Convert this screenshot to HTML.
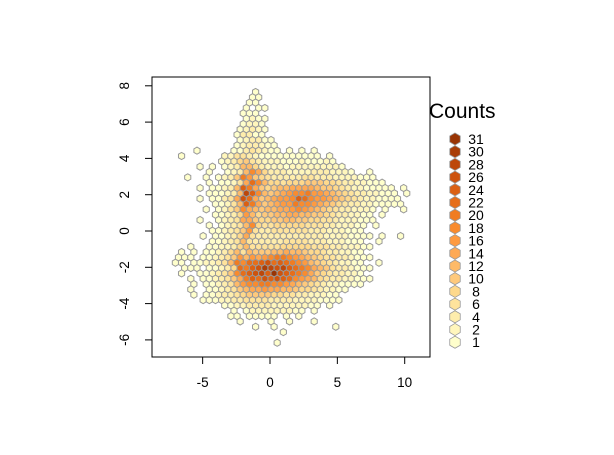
<!DOCTYPE html>
<html><head><meta charset="utf-8">
<style>
html,body{margin:0;padding:0;background:#fff;}
svg{display:block;font-family:"Liberation Sans",Arial,sans-serif;}
</style></head>
<body>
<svg id="chart" width="614" height="455" viewBox="0 0 614 455">
  <g id="hexes"></g>
  <rect x="152" y="77" width="278" height="280" fill="none" stroke="#000" stroke-width="1"/>
  <g id="axes"></g>
  <g id="legend">
    <text x="429" y="118" font-size="21" fill="#000">Counts</text>
  </g>
</svg>
<script>
// data: hex grid rows (top to bottom), each char is a legend level index ('.' = empty)
const levelChars = "0123456789abcdefg";
const legendCounts = [1,2,4,6,8,10,12,14,16,18,20,22,24,26,28,30,31];
const legendColors = ["#FFFFCC","#FFF6BC","#FEEDAC","#FEE39C","#FED98C","#FEC97C","#FEBA68","#FEA954","#FE9A40","#F98B2E","#F07C22","#E66E1A","#DB6013","#CD530E","#BD470A","#A93D07","#993404"];
const xTicks = [-5,0,5,10];
const yTicks = [-6,-4,-2,0,2,4,6,8];
const gridXMin = -7.94, gridDX = 0.458, gridYMax = 7.66, gridDY = 0.294;
const hexRows = [
"...............0",
"..............00",
"..............00",
".............0.00",
".............000",
".............0100",
".............0110",
"............01210",
"............02200",
"............012200",
"............0122100",
".....0.....00232100.0.0.0",
"...0......1133210000000000.0",
".........0124532111000100010",
"......0.0.01266421110111111110",
".......0..012697422211112221110..0",
"....0..0.0125a854322222332221111000",
".......0.00137b964434445554432211000",
"......0.00126ca75456677776554321100000.0",
".......000126ec96567899a88765432211000.0",
"......0.00237db7567889cb988765432110000",
"........00136ca756788a99876543221100000",
".......0.01359765667789876543221110.0..0",
"........00124864556677665543221100.0",
"......0..01237754455665544332111000",
".......0.012369433444443332211100.0",
"........0012358322333333222111000",
"......0.00124732222222222211110000.0..0",
"........0012363222223333222111000..0",
"....0..001124633333444443332211100",
"...0.0.00124636555667665443221100",
"..000.001235868789aa98765433221000",
"..00.0011236a9bbcdbcba98654321100..0",
"...000.00124bacdfedecba97653221000",
"...0..0012359bcdecgdcba9754322110",
"....0.0012357acbdcdcb9876432211000",
".....0.001236899aa998765432110000",
"....0..00123567787766544321100",
".....0.0012234555544332211100",
"......00011223333222211110000",
"..........0011222211111100.0",
"...........0.0111111100.0",
"...........00.00000.0.0",
"............0....0..0...0",
"...............0..0.........0",
"...................0",
"",
"..................0"
];

const NS = "http://www.w3.org/2000/svg";
function xScale(v){ return 270 + v*13.47; }
function yScale(v){ return 231 - v*18.15; }
function hexPts(cx, cy, w){
  const hw = w/2, r = w/Math.sqrt(3);
  return [[0,-r],[hw,-r/2],[hw,r/2],[0,r],[-hw,r/2],[-hw,-r/2]].map(p=>(cx+p[0]).toFixed(2)+","+(cy+p[1]).toFixed(2)).join(" ");
}
const hexG = document.getElementById("hexes");
hexRows.forEach((row, r) => {
  for (let c = 0; c < row.length; c++) {
    const ch = row[c];
    if (ch === ".") continue;
    const lvl = levelChars.indexOf(ch);
    const xd = gridXMin + (c + (r % 2 ? 0.5 : 0)) * gridDX;
    const yd = gridYMax - r * gridDY;
    const p = document.createElementNS(NS, "polygon");
    p.setAttribute("points", hexPts(xScale(xd), yScale(yd), 6.17));
    p.setAttribute("fill", legendColors[lvl]);
    p.setAttribute("stroke", "#999999");
    p.setAttribute("stroke-width", "1");
    
    
    hexG.appendChild(p);
  }
});

const axG = document.getElementById("axes");
function mk(tag, attrs, text){
  const e = document.createElementNS(NS, tag);
  for (const k in attrs) e.setAttribute(k, attrs[k]);
  if (text !== undefined) e.textContent = text;
  return e;
}
const xl = mk("line",{x1:xScale(xTicks[0]),x2:xScale(xTicks[xTicks.length-1]),y1:357,y2:357,stroke:"#000"});


axG.appendChild(xl);
xTicks.forEach(v => {
  const t = mk("line",{x1:xScale(v),x2:xScale(v),y1:357,y2:364,stroke:"#000"});
  
  
  axG.appendChild(t);
  const l = mk("text",{x:xScale(v),y:387,"font-size":"13.5","text-anchor":"middle"}, String(v));
  
  
  axG.appendChild(l);
});
const yl = mk("line",{x1:152,x2:152,y1:yScale(yTicks[0]),y2:yScale(yTicks[yTicks.length-1]),stroke:"#000"});


axG.appendChild(yl);
yTicks.forEach(v => {
  const y = yScale(v);
  const t = mk("line",{x1:145,x2:152,y1:y,y2:y,stroke:"#000"});
  
  
  axG.appendChild(t);
  const l = mk("text",{x:0,y:0,"font-size":"13.5","text-anchor":"middle",transform:"translate(129,"+y+") rotate(-90)"}, String(v));
  
  
  axG.appendChild(l);
});

const lg = document.getElementById("legend");
for (let i = legendCounts.length - 1, k = 0; i >= 0; i--, k++) {
  const cy = 139 + k * 12.7;
  const h = mk("polygon",{points:hexPts(455, cy, 10.5), fill:legendColors[i], stroke:"#9a9a9a","stroke-width":"0.8"});
  
  
  lg.appendChild(h);
  const t = mk("text",{x:476,y:cy+5,"font-size":"14","text-anchor":"middle",fill:"#000"}, String(legendCounts[i]));
  
  
  lg.appendChild(t);
}
</script>
</body></html>
